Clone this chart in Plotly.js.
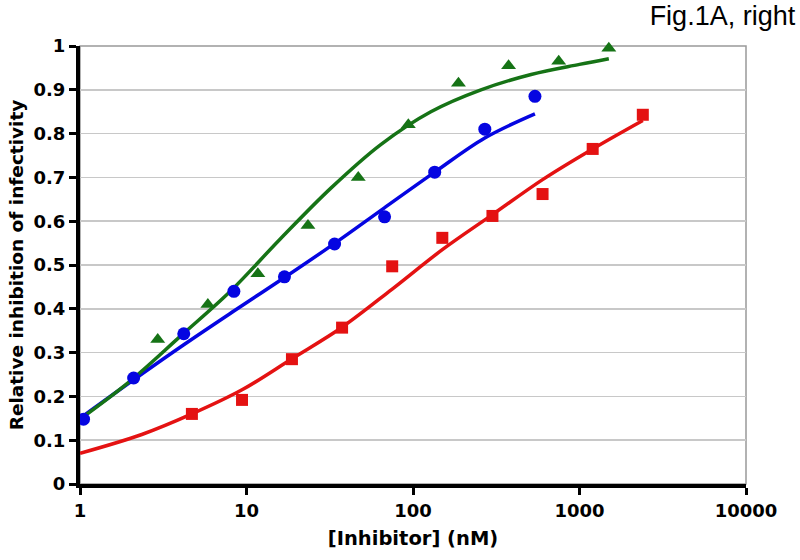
<!DOCTYPE html>
<html>
<head>
<meta charset="utf-8">
<script src="https://cdn.plot.ly/plotly-3.0.1.min.js"></script>
<style>html,body{margin:0;padding:0;background:#fff;}#chart{width:800px;height:560px;}</style>
</head>
<body>
<div id="chart"></div>
<script>
// Measured data points
const greenX = [2.93, 5.86, 11.7, 23.4, 46.9, 93.75, 187.5, 375, 750, 1500];
const greenY = [0.33, 0.41, 0.48, 0.59, 0.70, 0.82, 0.915, 0.955, 0.965, 0.995];
const blueX = [1.05, 2.1, 4.2, 8.4, 16.9, 33.8, 67.5, 135, 270, 540];
const blueY = [0.148, 0.242, 0.343, 0.44, 0.473, 0.548, 0.61, 0.712, 0.81, 0.885];
const redX = [4.7, 9.4, 18.75, 37.5, 75, 150, 300, 600, 1200, 2400];
const redY = [0.16, 0.192, 0.285, 0.357, 0.497, 0.562, 0.612, 0.662, 0.765, 0.843];

// Fitted curves
const greenFitX = [1, 2, 4, 8, 16, 32, 64, 128, 256, 512, 1000, 1500];
const greenFitY = [0.148, 0.235, 0.337, 0.44, 0.56, 0.675, 0.775, 0.85, 0.90, 0.935, 0.958, 0.971];
const blueFitX = [1, 2.1, 4.2, 8.4, 17, 34, 67, 135, 270, 540];
const blueFitY = [0.15, 0.238, 0.318, 0.395, 0.472, 0.55, 0.63, 0.712, 0.79, 0.845];
const redFitX = [1, 2.35, 4.7, 9.4, 18.75, 37.5, 75, 150, 300, 600, 1200, 2400];
const redFitY = [0.07, 0.113, 0.16, 0.215, 0.286, 0.358, 0.445, 0.535, 0.615, 0.695, 0.765, 0.83];

const xTickVals = [1, 10, 100, 1000, 10000];
const xTickText = ['1', '10', '100', '1000', '10000'];

const GREEN = 'rgb(22,115,22)';
const BLUE = 'rgb(5,5,225)';
const RED = 'rgb(228,18,18)';

const traces = [
  {x: redFitX, y: redFitY, mode: 'lines', line: {color: RED, width: 3.5, shape: 'spline', smoothing: 1}, hoverinfo: 'skip'},
  {x: blueFitX, y: blueFitY, mode: 'lines', line: {color: BLUE, width: 3.5, shape: 'spline', smoothing: 1}, hoverinfo: 'skip'},
  {x: greenFitX, y: greenFitY, mode: 'lines', line: {color: GREEN, width: 3.5, shape: 'spline', smoothing: 1}, hoverinfo: 'skip'},
  {x: redX, y: redY, mode: 'markers', marker: {symbol: 'square', size: 12, color: RED}, cliponaxis: false},
  {x: blueX, y: blueY, mode: 'markers', marker: {symbol: 'circle', size: 13, color: BLUE}, cliponaxis: false},
  {x: greenX, y: greenY, mode: 'markers', marker: {symbol: 'triangle-up', size: 13, color: GREEN}, cliponaxis: false}
];

const tickFont = {family: 'DejaVu Sans', size: 18, color: '#000', weight: 'bold'};

const layout = {
  width: 800, height: 560,
  margin: {l: 80, r: 54, t: 46, b: 76},
  paper_bgcolor: '#fff', plot_bgcolor: '#fff',
  showlegend: false,
  title: {text: 'Fig.1A, right', font: {family: 'Liberation Sans', size: 27, color: '#000'},
          x: 0.994, xanchor: 'right', xref: 'container', y: 0.99, yanchor: 'top', yref: 'container'},
  xaxis: {
    type: 'log', range: [0, 4],
    tickvals: xTickVals, ticktext: xTickText,
    showgrid: false, zeroline: false,
    showline: true, linecolor: '#000', linewidth: 4,
    ticks: 'outside', ticklen: 7, tickwidth: 3, tickcolor: '#000',
    tickfont: tickFont,
    title: {text: '[Inhibitor] (nM)', font: {family: 'DejaVu Sans', size: 19.5, color: '#000', weight: 'bold'}, standoff: 13}
  },
  yaxis: {
    range: [0, 1], dtick: 0.1, tick0: 0,
    showgrid: true, gridcolor: '#c8c8c8', gridwidth: 1.5,
    zeroline: false,
    showline: true, linecolor: '#000', linewidth: 4,
    ticks: 'outside', ticklen: 7, tickwidth: 3, tickcolor: '#000',
    tickfont: tickFont,
    title: {text: 'Relative inhibition of infectivity', font: {family: 'DejaVu Sans', size: 18.5, color: '#000', weight: 'bold'}, standoff: 6}
  },
  shapes: [
    {type: 'rect', xref: 'paper', yref: 'paper', x0: 0, x1: 1, y0: 0, y1: 1,
     line: {color: '#999', width: 1.5}, layer: 'below'}
  ]
};

Plotly.newPlot('chart', traces, layout, {staticPlot: true, displayModeBar: false});
</script>
</body>
</html>
